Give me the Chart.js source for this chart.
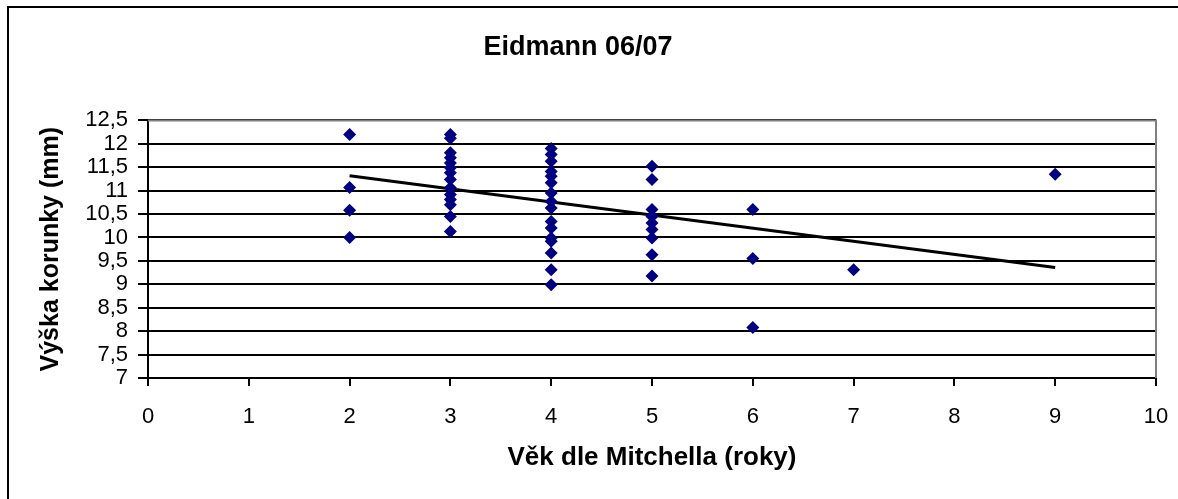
<!DOCTYPE html>
<html>
<head>
<meta charset="utf-8">
<script src="https://cdn.jsdelivr.net/npm/chart.js"></script>
<style>
  html, body { margin: 0; padding: 0; background: #fff; overflow: hidden; }
  canvas { display: block; }
</style>
</head>
<body>
<canvas id="chart" width="1178" height="499"></canvas>
<script>
// data (x = age in years, y = crown height in mm)
const ages = [2, 3, 4, 5, 6, 7, 9];
const heights2 = [12.2, 11.07, 10.58, 10.0];
const heights3 = [12.2, 12.12, 11.81, 11.7, 11.59, 11.49, 11.38, 11.24, 11.06, 10.92, 10.81, 10.7, 10.45, 10.13];
const heights4 = [11.9, 11.77, 11.63, 11.41, 11.31, 11.17, 10.95, 10.77, 10.63, 10.34, 10.2, 9.99, 9.92, 9.67, 9.31, 8.99];
const heights5 = [11.52, 11.24, 10.6, 10.45, 10.31, 10.17, 9.99, 9.63, 9.18];
const heights6 = [10.6, 9.55, 8.08];
const heights7 = [9.31];
const heights9 = [11.35];
const trendX = [2, 9];
const trendY = [11.32, 9.36];

const chartTitle = 'Eidmann 06/07';
const xTitle = 'Věk dle Mitchella (roky)';
const yTitle = 'Výška korunky (mm)';

const groups = [heights2, heights3, heights4, heights5, heights6, heights7, heights9];
let points = [];
for (let i = 0; i < ages.length; i++) {
  groups[i].forEach(function (h) { points.push({x: ages[i], y: h}); });
}
let trend = trendX.map(function (x, i) { return {x: x, y: trendY[i]}; });

const FONT = '"Liberation Sans", Arial, sans-serif';

// white page + outer frame (only top/left visible) + grey top/right edge of plot area
const framePlugin = {
  id: 'frame',
  beforeDraw(chart) {
    const c = chart.ctx;
    c.save();
    c.fillStyle = '#fff';
    c.fillRect(0, 0, chart.width, chart.height);
    c.strokeStyle = '#000';
    c.lineWidth = 2;
    c.beginPath();
    c.moveTo(8, chart.height);
    c.lineTo(8, 7);
    c.lineTo(chart.width, 7);
    c.stroke();
    c.restore();
  },
  afterDatasetsDraw(chart) {
    const a = chart.chartArea;
    const c = chart.ctx;
    c.save();
    c.strokeStyle = '#808080';
    c.lineWidth = 2;
    c.beginPath();
    c.moveTo(a.left, a.top);
    c.lineTo(a.right, a.top);
    c.lineTo(a.right, a.bottom);
    c.stroke();
    c.restore();
  }
};

new Chart(document.getElementById('chart'), {
  type: 'scatter',
  data: {
    datasets: [
      {
        label: 'data',
        data: points,
        pointStyle: 'rectRot',
        pointRadius: 6.5,
        pointHoverRadius: 6.5,
        backgroundColor: '#000080',
        borderColor: '#000080',
        borderWidth: 0,
        order: 1
      },
      {
        type: 'line',
        label: 'trend',
        data: trend,
        borderColor: '#000',
        borderWidth: 3,
        pointRadius: 0,
        fill: false,
        order: 2
      }
    ]
  },
  options: {
    responsive: false,
    animation: false,
    layout: {padding: {left: 0, right: 22, top: 0, bottom: 0}},
    plugins: {
      legend: {display: false},
      tooltip: {enabled: false},
      title: {
        display: true,
        text: chartTitle,
        color: '#000',
        font: {family: FONT, size: 27, weight: 'bold'},
        padding: {top: 31, bottom: 57}
      }
    },
    scales: {
      x: {
        type: 'linear',
        min: 0,
        max: 10,
        ticks: {stepSize: 1, color: '#000', font: {family: FONT, size: 22}, padding: 18, maxRotation: 0, autoSkip: false},
        grid: {drawOnChartArea: false, drawTicks: true, tickLength: 8, color: '#000', lineWidth: 2},
        border: {color: '#000', width: 2},
        title: {display: true, text: xTitle, color: '#000', font: {family: FONT, size: 26, weight: 'bold'}, padding: {top: 0, bottom: 26}},
        afterFit(scale) {
          scale.height = 121;
          scale.paddingRight = 0;
          scale.paddingLeft = 0;
        }
      },
      y: {
        min: 7,
        max: 12.5,
        ticks: {
          stepSize: 0.5,
          autoSkip: false,
          color: '#000',
          font: {family: FONT, size: 22},
          padding: 10,
          callback: function (v) { return String(v).replace('.', ','); }
        },
        grid: {color: '#000', lineWidth: 2, tickLength: 10},
        border: {color: '#000', width: 2},
        title: {display: true, text: yTitle, color: '#000', font: {family: FONT, size: 25, weight: 'bold'}, padding: {top: 36, bottom: 0}},
        afterFit(scale) { scale.width = 148; }
      }
    }
  },
  plugins: [framePlugin]
});
</script>
</body>
</html>
